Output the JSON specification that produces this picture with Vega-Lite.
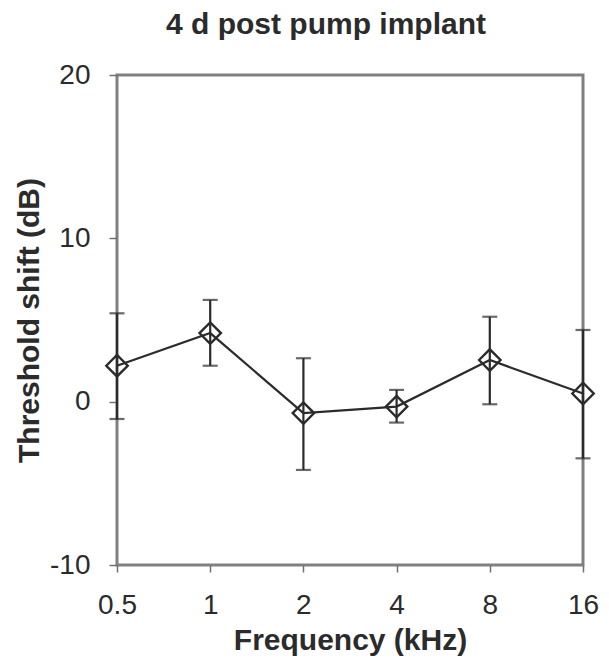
{
  "$schema": "https://vega.github.io/schema/vega-lite/v6.json",
  "width": 466,
  "height": 490,
  "autosize": {"type": "none"},
  "padding": {"left": 117, "top": 75, "right": 26, "bottom": 95},
  "background": "white",
  "title": {
    "text": "4 d post pump implant",
    "fontSize": 30,
    "font": "Liberation Sans",
    "fontWeight": "bold",
    "color": "#2b2b2b",
    "anchor": "middle",
    "dx": -24,
    "offset": 21
  },
  "config": {
    "view": {"stroke": "#808080", "strokeWidth": 3},
    "axis": {
      "domain": false,
      "grid": false,
      "labelFont": "Liberation Sans",
      "labelFontSize": 28,
      "labelColor": "#2b2b2b",
      "titleFont": "Liberation Sans",
      "titleFontSize": 30,
      "titleFontWeight": "bold",
      "titleColor": "#2b2b2b",
      "tickColor": "#707070",
      "tickWidth": 1.5
    }
  },
  "data": {
    "values": [
      {"freq": 0.5, "shift": 2.2, "lo": -1.06, "hi": 5.41},
      {"freq": 1, "shift": 4.2, "lo": 2.2, "hi": 6.23},
      {"freq": 2, "shift": -0.7, "lo": -4.18, "hi": 2.66},
      {"freq": 4, "shift": -0.3, "lo": -1.28, "hi": 0.72},
      {"freq": 8, "shift": 2.55, "lo": -0.16, "hi": 5.2},
      {"freq": 16, "shift": 0.5, "lo": -3.47, "hi": 4.39}
    ]
  },
  "encoding": {
    "x": {
      "field": "freq",
      "type": "quantitative",
      "scale": {"type": "log", "base": 2, "domain": [0.5, 16], "nice": false},
      "axis": {
        "title": "Frequency (kHz)",
        "values": [0.5, 1, 2, 4, 8, 16],
        "labelExpr": "'' + datum.value",
        "tickSize": 7,
        "labelPadding": 19,
        "titlePadding": 6,
        "labelFlush": false,
        "labelOverlap": false
      }
    }
  },
  "layer": [
    {
      "mark": {"type": "rule", "color": "#2b2b2b", "strokeWidth": 2.2},
      "encoding": {
        "y": {
          "field": "lo",
          "type": "quantitative",
          "scale": {"domain": [-10, 20], "nice": false, "zero": false},
          "axis": {
            "title": "Threshold shift (dB)",
            "values": [-10, 0, 10, 20],
            "labelExpr": "'' + datum.value",
            "tickSize": 8,
            "labelPadding": 19,
            "titlePadding": 5,
            "labelFlush": false,
            "labelOverlap": false
          }
        },
        "y2": {"field": "hi"}
      }
    },
    {
      "mark": {"type": "tick", "orient": "horizontal", "color": "#2b2b2b", "size": 15, "thickness": 2.2},
      "encoding": {"y": {"field": "lo", "type": "quantitative"}}
    },
    {
      "mark": {"type": "tick", "orient": "horizontal", "color": "#2b2b2b", "size": 15, "thickness": 2.2},
      "encoding": {"y": {"field": "hi", "type": "quantitative"}}
    },
    {
      "mark": {"type": "line", "color": "#2b2b2b", "strokeWidth": 2.2},
      "encoding": {"y": {"field": "shift", "type": "quantitative"}}
    },
    {
      "mark": {"type": "point", "shape": "diamond", "filled": false, "size": 460, "stroke": "#2b2b2b", "strokeWidth": 2.4, "opacity": 1},
      "encoding": {"y": {"field": "shift", "type": "quantitative"}}
    }
  ]
}
